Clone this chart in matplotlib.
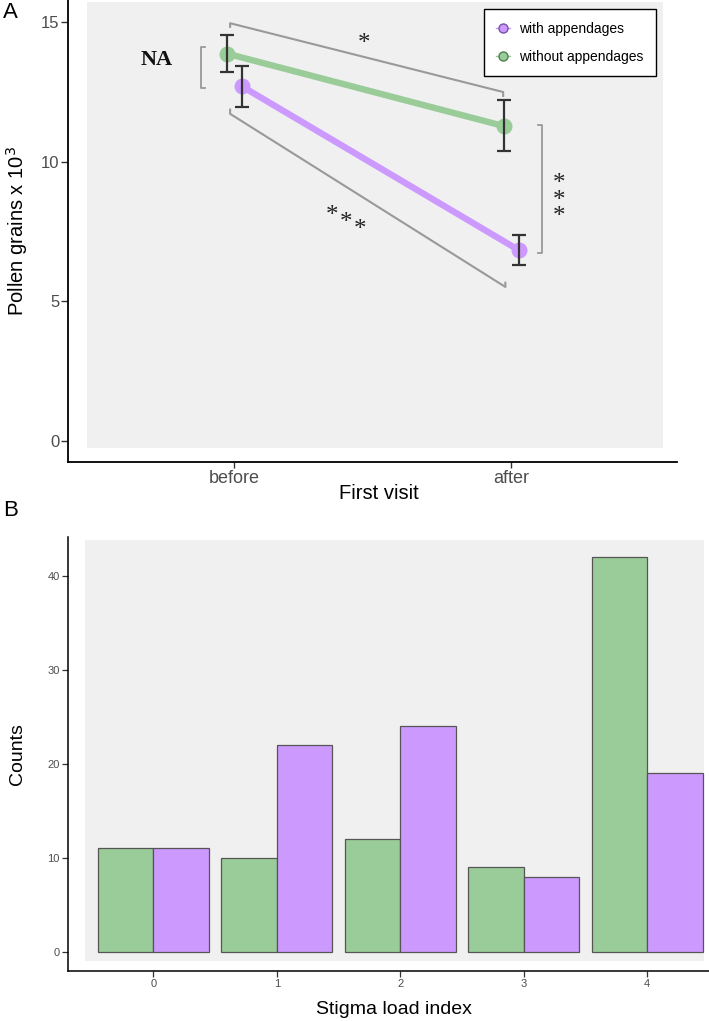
import numpy as np
import matplotlib.pyplot as plt
from matplotlib.patches import Rectangle

plt.rcParams['font.family'] = ['Liberation Sans', 'DejaVu Sans']

# panel A data (pollen grains x 10^3)
visits = ['before', 'after']
with_mean = [12.69, 6.84]
with_lo = [11.95, 6.30]
with_hi = [13.43, 7.37]
without_mean = [13.86, 11.27]
without_lo = [13.20, 10.38]
without_hi = [14.54, 12.20]

# panel B data (counts)
load_index = [0, 1, 2, 3, 4]
counts_without = [11, 10, 12, 9, 42]
counts_with = [11, 22, 24, 8, 19]

green = '#9ACC99'
purple = '#CC99FF'
panel_bg = '#F0F0F0'
tick_col = '#4D4D4D'
brk_col = '#999999'

fig = plt.figure(figsize=(7.09, 10.21), dpi=100)

# ---------- panel A ----------
ax = fig.add_axes([0.0963, 0.5475, 0.8584, 0.4525])
ax.set_xlim(0.4, 2.6)
ax.set_ylim(-0.74, 15.78)
ax.add_patch(Rectangle((0.466, -0.24), 2.551 - 0.466, 15.95, color=panel_bg, zorder=0, lw=0))

xpos = np.arange(1, len(visits) + 1)
xg = xpos - 0.025
xp = xpos + 0.028

ax.plot(xp, with_mean, color=purple, lw=4.6, solid_capstyle='round', zorder=3)
ax.plot(xp, with_mean, 'o', color=purple, ms=10.5, zorder=4)
ax.plot(xg, without_mean, color=green, lw=4.6, solid_capstyle='round', zorder=3)
ax.plot(xg, without_mean, 'o', color=green, ms=10.5, zorder=4)

for xs, m, lo, hi in [(xp, with_mean, with_lo, with_hi), (xg, without_mean, without_lo, without_hi)]:
    m = np.array(m)
    err = [m - np.array(lo), np.array(hi) - m]
    ax.errorbar(xs, m, yerr=err, fmt='none', ecolor='#333333', elinewidth=1.6,
                capsize=5, capthick=1.6, zorder=5)

# significance brackets
ax.plot([0.985, 0.985, 1.972, 1.972], [14.82, 14.95, 12.49, 12.35], color=brk_col, lw=1.5, zorder=2)
ax.plot([0.985, 0.985, 1.98, 1.98], [11.86, 11.71, 5.52, 5.67], color=brk_col, lw=1.5, zorder=2)
ax.plot([2.098, 2.114, 2.114, 2.098], [11.32, 11.32, 6.74, 6.74], color=brk_col, lw=1.3, zorder=2)
ax.plot([0.894, 0.879, 0.879, 0.894], [14.09, 14.09, 12.64, 12.64], color=brk_col, lw=1.3, zorder=2)

star_kw = dict(family='Liberation Serif', fontsize=18, ha='center', va='center', color='#222222')
ax.text(1.47, 14.2, '*', **star_kw)
for sx, sy in [(1.355, 8.05), (1.404, 7.8), (1.453, 7.55)]:
    ax.text(sx, sy, '*', **star_kw)
ax.text(2.174, 8.6, '*\n*\n*', linespacing=0.68, **star_kw)
ax.text(0.719, 13.62, 'NA', family='Liberation Serif', fontweight='bold', fontsize=16,
        ha='center', va='center', color='#111111')

ax.plot([], [], '-o', color=purple, mec='#7a4fa8', ms=6.5, lw=1, label='with appendages')
ax.plot([], [], '-o', color=green, mec='#4f7f4e', ms=6.5, lw=1, label='without appendages')
leg = ax.legend(loc='upper right', bbox_to_anchor=(0.965, 0.98), borderaxespad=0,
                fontsize=10, fancybox=False, framealpha=1, edgecolor='black',
                handlelength=1.0, handletextpad=0.6, labelspacing=1.0,
                borderpad=0.9)
leg.get_frame().set_linewidth(1.0)

ax.set_xticks(xpos)
ax.set_xticklabels(visits)
ax.set_yticks([0, 5, 10, 15])
ax.tick_params(axis='y', labelsize=12, length=5, width=1.0, pad=1.5)
ax.tick_params(axis='x', labelsize=13, length=4, width=1.0, pad=2)
ax.tick_params(colors='#333333', labelcolor=tick_col)
for s in ['top', 'right']:
    ax.spines[s].set_visible(False)
for s in ['left', 'bottom']:
    ax.spines[s].set_linewidth(1.3)
ax.set_xlabel('First visit', fontsize=14.5)
ax.xaxis.set_label_coords(0.51, -0.068)
ax.xaxis.label.set_va('center')
ax.set_ylabel('Pollen grains x 10$^3$', fontsize=14.5)
ax.yaxis.set_label_coords(-0.084, 0.5)
ax.yaxis.label.set_va('center')

# ---------- panel B ----------
bx = fig.add_axes([0.0963, 0.0493, 0.9037, 0.4250])
bx.set_xlim(-0.69, 4.5)
bx.set_ylim(-2.03, 44.2)
bx.add_patch(Rectangle((-0.557, -1.03), 5.02, 44.93, color=panel_bg, zorder=0, lw=0))
idx = np.array(load_index)
bw = 0.45
bx.bar(idx - bw / 2, counts_without, width=bw, color=green, edgecolor='#555555', lw=0.9, zorder=2)
bx.bar(idx + bw / 2, counts_with, width=bw, color=purple, edgecolor='#555555', lw=0.9, zorder=2)
bx.set_xticks(idx)
bx.set_yticks([0, 10, 20, 30, 40])
bx.tick_params(labelsize=8, colors='#333333', labelcolor=tick_col, length=4, width=0.9, pad=2)
for s in ['top', 'right']:
    bx.spines[s].set_visible(False)
for s in ['left', 'bottom']:
    bx.spines[s].set_linewidth(1.1)
bx.set_xlabel('Stigma load index', fontsize=14)
bx.xaxis.set_label_coords(0.509, -0.0906)
bx.xaxis.label.set_va('center')
bx.set_ylabel('Counts', fontsize=14)
bx.yaxis.set_label_coords(-0.080, 0.5)
bx.yaxis.label.set_va('center')

fig.text(10 / 709, 1 - 12 / 1021, 'A', fontsize=16, ha='center', va='center')
fig.text(11 / 709, 1 - 511 / 1021, 'B', fontsize=16, ha='center', va='center')

fig.savefig('out.png', dpi=100)
